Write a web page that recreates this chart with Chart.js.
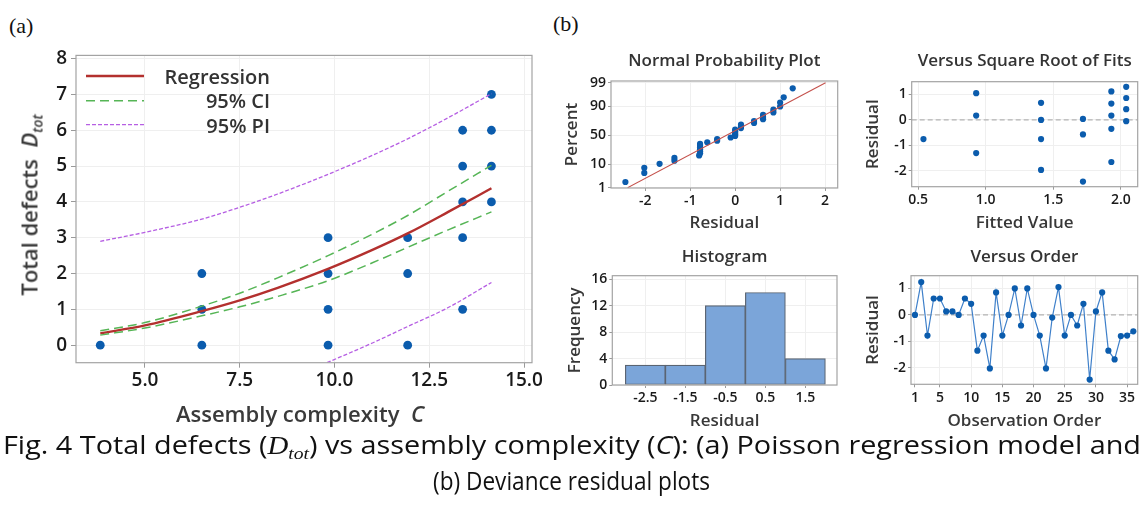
<!DOCTYPE html>
<html>
<head>
<meta charset="utf-8">
<script src="https://cdn.jsdelivr.net/npm/chart.js@4.4.1/dist/chart.umd.min.js"></script>
<style>
body { margin: 0; background: #fff; }
#page { position: relative; width: 1143px; height: 518px; overflow: hidden; font-family: 'Open Sans', 'Noto Sans', sans-serif; background: #fff; }
canvas { position: absolute; }
.lbl { position: absolute; white-space: nowrap; transform: translate(-50%, -50%); color: #3a3a3a; font-weight: 600; }
.lbl sub { font-size: 14px; vertical-align: -5px; }
.panel { position: absolute; font-family: 'Liberation Serif', serif; font-size: 22px; color: #111; }
.cap { position: absolute; white-space: nowrap; font-family: 'Open Sans', 'Noto Sans', sans-serif; font-size: 25px; color: #111; }
.cap .m { font-family: 'Liberation Serif', serif; font-style: italic; }
.cap sub { font-size: 17px; vertical-align: -5px; }
</style>
</head>
<body>
<div id="page">
  <div class="panel" style="left:9px;top:13px">(a)</div>
  <div class="panel" style="left:553px;top:11px">(b)</div>

  <canvas id="chartA" width="560" height="363" style="left:0px;top:40px"></canvas>
  <canvas id="chartNpp" width="295" height="200" style="left:550px;top:40px"></canvas>
  <canvas id="chartFits" width="298" height="200" style="left:845px;top:40px"></canvas>
  <canvas id="chartHist" width="295" height="195" style="left:550px;top:240px"></canvas>
  <canvas id="chartOrder" width="298" height="195" style="left:845px;top:240px"></canvas>

  <div class="lbl" style="left:300px;top:413px;font-size:22px">Assembly complexity&nbsp; <i>C</i></div>
  <div class="lbl" style="left:30px;top:205px;font-size:22px;transform:translate(-50%,-50%) rotate(-90deg)">Total defects&nbsp; <i>D<sub>tot</sub></i></div>

  <div class="cap" id="cap1" style="left:3px;top:427px">Fig. 4 Total defects (<span class="m">D<sub>tot</sub></span>) vs assembly complexity (<i>C</i>): (a) Poisson regression model and</div>
  <div class="cap" id="cap2" style="left:571px;top:463px">(b) Deviance residual plots</div>
</div>

<script>
// ---- (a) Poisson regression: data ----
var complexity = [3.82, 6.5, 6.5, 6.5, 9.83, 9.83, 9.83, 9.83, 11.93, 11.93, 11.93, 13.38, 13.38, 13.38, 13.38, 13.38, 14.14, 14.14, 14.14, 14.14];
var defects    = [0, 0, 1, 2, 0, 1, 2, 3, 0, 2, 3, 1, 3, 4, 5, 6, 4, 5, 6, 7];

var curveX = [3.82, 5, 6.5, 7.5, 8.5, 9.83, 11, 11.93, 13, 14.14];
var regY   = [0.33, 0.55, 0.95, 1.25, 1.6, 2.13, 2.66, 3.12, 3.72, 4.38];
var ciUpY  = [0.40, 0.63, 1.09, 1.45, 1.88, 2.5, 3.1, 3.62, 4.3, 5.02];
var ciLoY  = [0.28, 0.48, 0.82, 1.07, 1.36, 1.8, 2.3, 2.73, 3.22, 3.72];
var piUpY  = [2.9, 3.15, 3.52, 3.85, 4.22, 4.77, 5.3, 5.76, 6.35, 7.02];
var piLoX  = [9.8, 11, 11.93, 13, 14.14];
var piLoY  = [-0.49, 0.06, 0.52, 1.05, 1.75];

var ticksAX = [5, 7.5, 10, 12.5, 15];
var ticksAY = [0, 1, 2, 3, 4, 5, 6, 7, 8];

// ---- (b) deviance residuals ----
var nppResid = [-2.44, -2.02, -2.02, -1.68, -1.35, -1.35, -0.8, -0.78, -0.78, -0.78, -0.78, -0.78, -0.78, -0.62, -0.4, -0.4, -0.1, 0, 0, 0, 0, 0, 0.13, 0.13, 0.13, 0.42, 0.42, 0.62, 0.62, 0.62, 0.85, 0.85, 1.0, 1.0, 1.08, 1.28];
var nppPct   = [1.9, 4.7, 7.4, 10.2, 12.9, 15.7, 18.4, 21.2, 23.9, 26.6, 29.4, 32.1, 34.9, 37.6, 40.4, 43.1, 45.9, 48.6, 51.4, 54.1, 56.9, 59.6, 62.4, 65.1, 67.9, 70.6, 73.4, 76.1, 78.8, 81.6, 84.3, 87.1, 89.8, 92.6, 95.3, 98.1];
var nppLineX   = [-2.39, 2.01];
var nppLinePct = [1, 99];
var pctTicks   = [1, 10, 50, 90, 99];

var sqrtFits  = [0.54, 0.93, 0.93, 0.93, 1.41, 1.41, 1.41, 1.41, 1.72, 1.72, 1.72, 1.93, 1.93, 1.93, 1.93, 1.93, 2.04, 2.04, 2.04, 2.04];
var fitsResid = [-0.75, 1.05, 0.17, -1.3, 0.67, 0, -0.75, -1.96, 0.04, -0.57, -2.42, 1.12, 0.64, 0.17, -0.35, -1.65, 1.3, 0.86, 0.42, -0.05];

var histMid  = [-2.5, -1.5, -0.5, 0.5, 1.5];
var histFreq = [3, 3, 12, 14, 4];

var orderResid = [0, 1.24, -0.78, 0.62, 0.62, 0.13, 0.13, 0, 0.62, 0.42, -1.35, -0.78, -2.02, 0.85, -0.78, 0, 1.0, -0.4, 1.0, 0, -0.78, -2.02, -0.1, 1.05, -0.78, 0, -0.4, 0.42, -2.44, 0.13, 0.85, -1.35, -1.68, -0.8, -0.78, -0.62];
var orderTicks = [1, 5, 10, 15, 20, 25, 30, 35];

Chart.defaults.font.family = "'Open Sans', 'Noto Sans', sans-serif";
Chart.defaults.color = '#1e1e1e';
Chart.defaults.animation = false;

var BLUE = '#0b5cad';

function xy(xs, ys) { return xs.map(function(x, i) { return {x: x, y: ys[i]}; }); }

// inverse normal cdf (Acklam), used by the probability axis
function probit(p) {
  var a = [-39.69683028665376, 220.9460984245205, -275.9285104469687, 138.3577518672690, -30.66479806614716, 2.506628277459239];
  var b = [-54.47609879822406, 161.5858368580409, -155.6989798598866, 66.80131188771972, -13.28068155288572];
  var c = [-0.007784894002430293, -0.3223964580411365, -2.400758277161838, -2.549732539343734, 4.374664141464968, 2.938163982698783];
  var d = [0.007784695709041462, 0.3224671290700398, 2.445134137142996, 3.754408661907416];
  var q, r;
  if (p < 0.02425) {
    q = Math.sqrt(-2 * Math.log(p));
    return (((((c[0]*q+c[1])*q+c[2])*q+c[3])*q+c[4])*q+c[5]) / ((((d[0]*q+d[1])*q+d[2])*q+d[3])*q+1);
  }
  if (p > 1 - 0.02425) {
    q = Math.sqrt(-2 * Math.log(1 - p));
    return -(((((c[0]*q+c[1])*q+c[2])*q+c[3])*q+c[4])*q+c[5]) / ((((d[0]*q+d[1])*q+d[2])*q+d[3])*q+1);
  }
  q = p - 0.5; r = q * q;
  return (((((a[0]*r+a[1])*r+a[2])*r+a[3])*r+a[4])*r+a[5])*q / (((((b[0]*r+b[1])*r+b[2])*r+b[3])*r+b[4])*r+1);
}

class ProbitScale extends Chart.LinearScale {
  determineDataLimits() {
    this.min = probit(this.options.min / 100);
    this.max = probit(this.options.max / 100);
  }
  buildTicks() {
    return pctTicks.map(function(v) { return {value: v}; });
  }
  getPixelForValue(v) {
    return super.getPixelForValue(probit(v / 100));
  }
}
ProbitScale.id = 'probit';
ProbitScale.defaults = {ticks: {callback: function(v) { return String(v); }}};
Chart.register(ProbitScale);

// box around the plot area
var framePlugin = {
  id: 'frame',
  afterDraw: function(chart) {
    var a = chart.chartArea, ctx = chart.ctx;
    ctx.save();
    ctx.strokeStyle = '#a3a3a3';
    ctx.lineWidth = 1.2;
    ctx.strokeRect(a.left, a.top, a.right - a.left, a.bottom - a.top);
    ctx.restore();
  }
};

// dashed reference line at residual 0
var zeroPlugin = {
  id: 'zero',
  beforeDatasetsDraw: function(chart) {
    var a = chart.chartArea, ctx = chart.ctx;
    var y = chart.scales.y.getPixelForValue(0);
    ctx.save();
    ctx.strokeStyle = '#b4b4b4';
    ctx.lineWidth = 1.2;
    ctx.setLineDash([5, 3]);
    ctx.beginPath();
    ctx.moveTo(a.left, y);
    ctx.lineTo(a.right, y);
    ctx.stroke();
    ctx.restore();
  }
};

// legend of panel (a), text right aligned like the original
var legendA = {
  id: 'legendA',
  afterDraw: function(chart) {
    var a = chart.chartArea, ctx = chart.ctx;
    var rows = [[4, 20.6, 22.5], [2, 45.3, 46.8], [0, 69.3, 71.5]];
    ctx.save();
    rows.forEach(function(r) {
      var ds = chart.data.datasets[r[0]];
      ctx.strokeStyle = ds.borderColor;
      ctx.lineWidth = ds.borderWidth;
      ctx.setLineDash(ds.borderDash || []);
      ctx.beginPath();
      ctx.moveTo(a.left + 10, a.top + r[1]);
      ctx.lineTo(a.left + 68, a.top + r[1]);
      ctx.stroke();
      ctx.setLineDash([]);
      ctx.fillStyle = '#333';
      ctx.font = "600 20px 'Open Sans', 'Noto Sans', sans-serif";
      ctx.textAlign = 'right';
      ctx.textBaseline = 'middle';
      ctx.fillText(ds.label, a.left + 194, a.top + r[2]);
    });
    ctx.restore();
  }
};

function scaleOpts(o) {
  var s = {
    type: o.type || 'linear',
    min: o.min,
    max: o.max,
    offset: false,
    afterFit: function(sc) { if (sc.isHorizontal()) sc.height = o.size; else sc.width = o.size; },
    grid: {color: '#efefef', tickColor: '#9a9a9a', tickLength: o.tickLen || 3, drawTicks: true, offset: false},
    border: {display: false},
    ticks: {color: '#1a1a1a', font: {size: o.font || 14, weight: 600}, padding: o.pad == null ? 2 : o.pad, maxRotation: 0, autoSkip: false,
            callback: o.fmt || function(v) { return String(v); }},
    title: o.title ? {display: true, text: o.title, color: '#383838', font: {size: 17, weight: 600}, padding: o.tpad} : {display: false}
  };
  if (o.ticks) s.afterBuildTicks = function(sc) { sc.ticks = o.ticks.map(function(v) { return {value: v}; }); };
  return s;
}

function titleOpts(text, top, bottom) {
  return {display: true, text: text, fullSize: false, color: '#333', font: {size: 17, weight: 600}, padding: {top: top, bottom: bottom}};
}

function lineDs(label, data, color, width, dash) {
  return {label: label, data: data, showLine: true, pointRadius: 0, borderColor: color, backgroundColor: color,
          borderWidth: width, borderDash: dash, cubicInterpolationMode: 'monotone', fill: false};
}

// ---- chart (a) ----
new Chart(document.getElementById('chartA'), {
  type: 'scatter',
  data: {
    datasets: [
      lineDs('95% PI', xy(curveX, piUpY), '#b65fe3', 1.3, [4, 2]),
      lineDs('95% PI', xy(piLoX, piLoY), '#b65fe3', 1.3, [4, 2]),
      lineDs('95% CI', xy(curveX, ciUpY), '#56b556', 1.5, [9, 5]),
      lineDs('95% CI', xy(curveX, ciLoY), '#56b556', 1.5, [9, 5]),
      lineDs('Regression', xy(curveX, regY), '#b3302e', 2.4),
      {label: 'Data', data: xy(complexity, defects), pointRadius: 4.4, pointBackgroundColor: BLUE, pointBorderWidth: 0}
    ]
  },
  options: {
    responsive: false,
    layout: {padding: {top: 12.7, right: 28, left: 0, bottom: 0}},
    plugins: {legend: {display: false}, tooltip: {enabled: false}},
    scales: {
      x: scaleOpts({min: 3.18, max: 15.21, ticks: ticksAX, size: 40.3, font: 19, pad: 1, tickLen: 5,
                    fmt: function(v) { return v.toFixed(1); }}),
      y: scaleOpts({min: -0.49, max: 8.09, ticks: ticksAY, size: 76, font: 19, pad: 4, tickLen: 5})
    }
  },
  plugins: [framePlugin, legendA]
});

// ---- normal probability plot ----
new Chart(document.getElementById('chartNpp'), {
  type: 'scatter',
  data: {
    datasets: [
      {data: xy(nppLineX, nppLinePct), showLine: true, pointRadius: 0, borderColor: '#c4504b', borderWidth: 1.1},
      {data: xy(nppResid, nppPct), pointRadius: 3.1, pointBackgroundColor: BLUE, pointBorderWidth: 0}
    ]
  },
  options: {
    responsive: false,
    layout: {padding: {top: 0, right: 7.3, left: 0, bottom: 0}},
    plugins: {legend: {display: false}, tooltip: {enabled: false}, title: titleOpts('Normal Probability Plot', 10.5, 10.1)},
    scales: {
      x: scaleOpts({min: -2.76, max: 2.28, ticks: [-2, -1, 0, 1, 2], size: 52, title: 'Residual', tpad: {top: 0, bottom: 7.1}}),
      y: Object.assign(scaleOpts({size: 61, title: 'Percent', tpad: {top: 11.8, bottom: 0}}), {type: 'probit', min: 0.96, max: 99.18})
    }
  },
  plugins: [framePlugin]
});

// ---- versus square root of fits ----
new Chart(document.getElementById('chartFits'), {
  type: 'scatter',
  data: {
    datasets: [
      {data: xy(sqrtFits, fitsResid), pointRadius: 3.1, pointBackgroundColor: BLUE, pointBorderWidth: 0}
    ]
  },
  options: {
    responsive: false,
    layout: {padding: {top: 0, right: 5.3, left: 0, bottom: 0}},
    plugins: {legend: {display: false}, tooltip: {enabled: false}, title: titleOpts('Versus Square Root of Fits', 10.5, 10.8)},
    scales: {
      x: scaleOpts({min: 0.453, max: 2.125, ticks: [0.5, 1.0, 1.5, 2.0], size: 53.3, title: 'Fitted Value', tpad: {top: 0, bottom: 6.8},
                    fmt: function(v) { return v.toFixed(1); }}),
      y: scaleOpts({min: -2.62, max: 1.5, ticks: [-2, -1, 0, 1], size: 66.7, title: 'Residual', tpad: {top: 17.8, bottom: 0}})
    }
  },
  plugins: [zeroPlugin, framePlugin]
});

// ---- histogram ----
new Chart(document.getElementById('chartHist'), {
  type: 'bar',
  data: {
    datasets: [
      {data: xy(histMid, histFreq), backgroundColor: '#7ba5d9', borderColor: '#5a6472', borderWidth: 1.2,
       borderSkipped: false, barPercentage: 1, categoryPercentage: 1}
    ]
  },
  options: {
    responsive: false,
    layout: {padding: {top: 0, right: 8, left: 0, bottom: 0}},
    plugins: {legend: {display: false}, tooltip: {enabled: false}, title: titleOpts('Histogram', 6.8, 8.5)},
    scales: {
      x: scaleOpts({min: -3.325, max: 2.29, ticks: histMid, size: 50, title: 'Residual', tpad: {top: 0, bottom: 3.8}}),
      y: scaleOpts({min: 0, max: 16.54, ticks: [0, 4, 8, 12, 16], size: 62.3, title: 'Frequency', tpad: {top: 14.8, bottom: 0}})
    }
  },
  plugins: [framePlugin]
});

// ---- versus order ----
new Chart(document.getElementById('chartOrder'), {
  type: 'scatter',
  data: {
    datasets: [
      {data: orderResid.map(function(r, i) { return {x: i + 1, y: r}; }), showLine: true, borderColor: '#3f80ca', borderWidth: 1.2,
       pointRadius: 3.1, pointBackgroundColor: BLUE, pointBorderWidth: 0}
    ]
  },
  options: {
    responsive: false,
    layout: {padding: {top: 0, right: 5.3, left: 0, bottom: 0}},
    plugins: {legend: {display: false}, tooltip: {enabled: false}, title: titleOpts('Versus Order', 6.8, 8.5)},
    scales: {
      x: scaleOpts({min: 0.36, max: 36.7, ticks: orderTicks, size: 50.7, title: 'Observation Order', tpad: {top: 0, bottom: 3.8}}),
      y: scaleOpts({min: -2.62, max: 1.48, ticks: [-2, -1, 0, 1], size: 66, title: 'Residual', tpad: {top: 17.8, bottom: 0}})
    }
  },
  plugins: [zeroPlugin, framePlugin]
});

// fit caption lines to the width they take in the original
(function() {
  var c1 = document.getElementById('cap1');
  var w1 = c1.getBoundingClientRect().width;
  c1.style.transformOrigin = '0 0';
  c1.style.transform = 'scaleX(' + (1138 / w1) + ')';
  var c2 = document.getElementById('cap2');
  var w2 = c2.getBoundingClientRect().width;
  c2.style.left = (571 - 277 / 2) + 'px';
  c2.style.transformOrigin = '0 0';
  c2.style.transform = 'scaleX(' + (277 / w2) + ')';
})();
</script>
</body>
</html>
